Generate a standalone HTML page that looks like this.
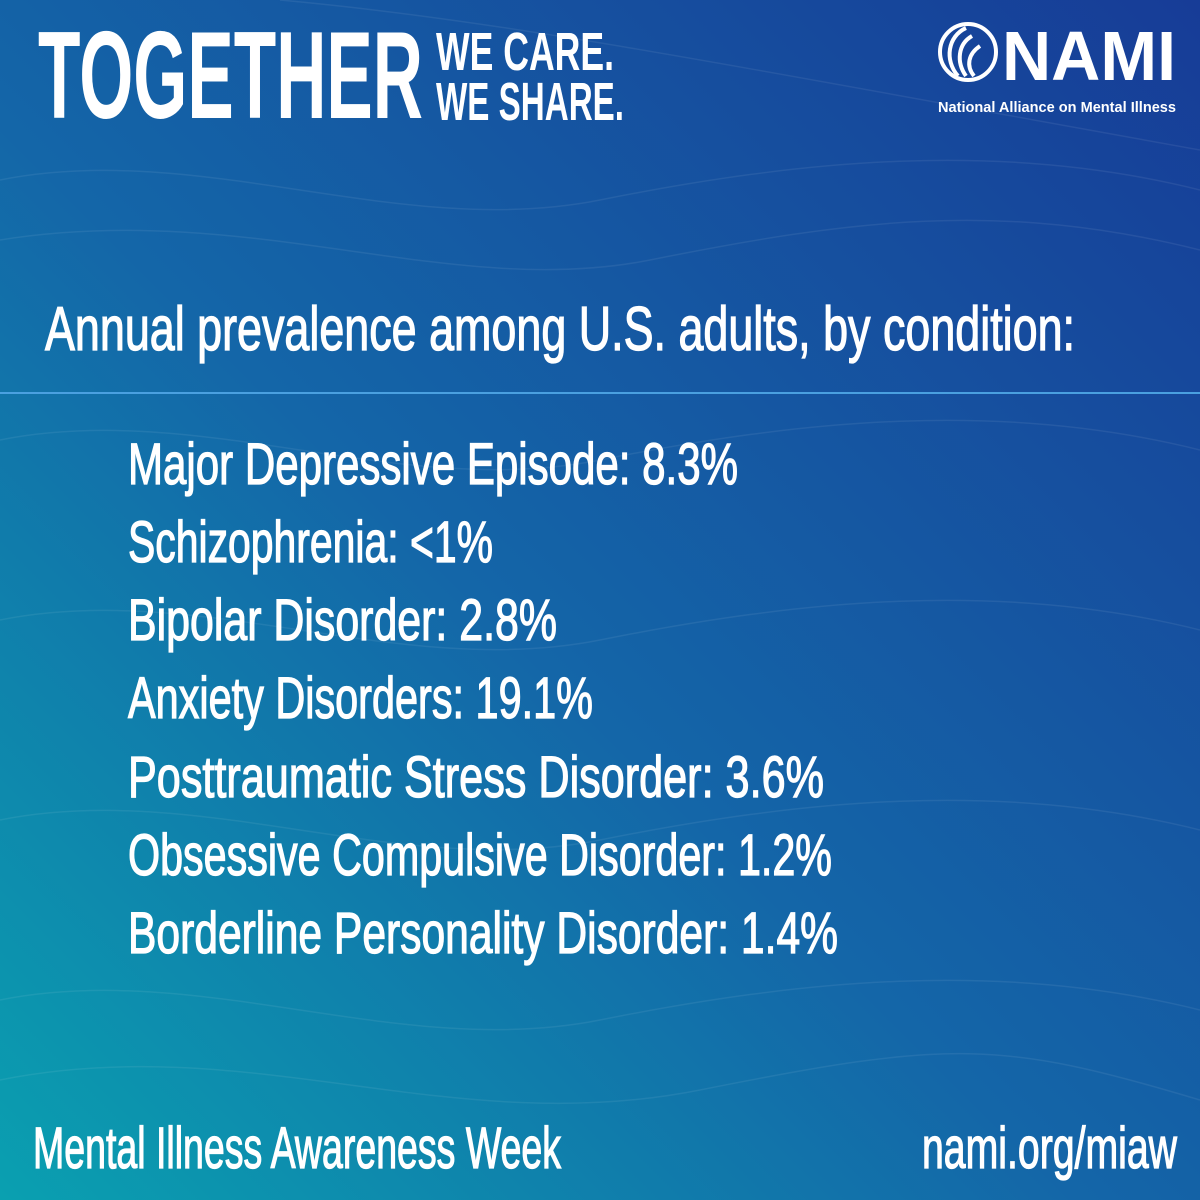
<!DOCTYPE html>
<html><head><meta charset="utf-8"><style>
html,body{margin:0;padding:0;width:1200px;height:1200px;overflow:hidden}
svg{display:block}
text{font-family:"Liberation Sans",sans-serif;fill:#fff}
.m{stroke:#fff;stroke-width:1.3}
</style></head><body>
<svg width="1200" height="1200" viewBox="0 0 1200 1200">
<defs>
<linearGradient id="bg" x1="0" y1="1" x2="1" y2="0">
<stop offset="0" stop-color="#0aa0b0"/>
<stop offset="0.45" stop-color="#1466a8"/>
<stop offset="1" stop-color="#173c97"/>
</linearGradient>
</defs>
<rect width="1200" height="1200" fill="url(#bg)"/>
<g fill="none" stroke="#ffffff" stroke-opacity="0.07" stroke-width="1.5">
<path d="M0 180 C200 140 400 240 600 200 S1000 140 1200 190"/>
<path d="M0 240 C250 200 450 300 650 260 S1000 200 1200 250"/>
<path d="M0 440 C200 400 400 500 600 460 S1000 400 1200 450"/>
<path d="M0 620 C200 580 400 680 600 640 S1000 580 1200 630"/>
<path d="M0 820 C200 780 400 880 600 840 S1000 780 1200 830"/>
<path d="M0 1000 C200 960 400 1060 600 1020 S1000 960 1200 1010"/>
<path d="M0 1080 C250 1030 450 1140 700 1090 S1000 1040 1200 1100"/>
<path d="M280 0 C500 20 700 60 1200 150"/>
</g>
<text x="38" y="118" font-size="124" font-weight="bold" textLength="385" lengthAdjust="spacingAndGlyphs">TOGETHER</text>
<text x="436" y="70" font-size="54" font-weight="bold" textLength="178" lengthAdjust="spacingAndGlyphs">WE CARE.</text>
<text x="436" y="120" font-size="54" font-weight="bold" textLength="188" lengthAdjust="spacingAndGlyphs">WE SHARE.</text>
<g>
<circle cx="968" cy="52" r="28" fill="none" stroke="#fff" stroke-width="4"/>
<path d="M958 76 C944 60 948 36 966 28 M966 76 C956 62 958 44 972 36 M974 76 C966 66 968 54 980 46" fill="none" stroke="#fff" stroke-width="4"/>
<text x="1002" y="80" font-size="70" font-weight="bold" textLength="174" lengthAdjust="spacingAndGlyphs">NAMI</text>
<text x="938" y="112" font-size="15" font-weight="bold" textLength="238" lengthAdjust="spacingAndGlyphs">National Alliance on Mental Illness</text>
</g>
<text class="m" x="45" y="350" font-size="62" textLength="1030" lengthAdjust="spacingAndGlyphs">Annual prevalence among U.S. adults, by condition:</text>
<line x1="0" y1="393" x2="1200" y2="393" stroke="#4aa0e0" stroke-width="2"/>
<g class="m">
<text x="128" y="484" font-size="58" textLength="610" lengthAdjust="spacingAndGlyphs">Major Depressive Episode: 8.3%</text>
<text x="128" y="562" font-size="58" textLength="365" lengthAdjust="spacingAndGlyphs">Schizophrenia: &lt;1%</text>
<text x="128" y="640" font-size="58" textLength="429" lengthAdjust="spacingAndGlyphs">Bipolar Disorder: 2.8%</text>
<text x="128" y="718" font-size="58" textLength="465" lengthAdjust="spacingAndGlyphs">Anxiety Disorders: 19.1%</text>
<text x="128" y="797" font-size="58" textLength="696" lengthAdjust="spacingAndGlyphs">Posttraumatic Stress Disorder: 3.6%</text>
<text x="128" y="875" font-size="58" textLength="704" lengthAdjust="spacingAndGlyphs">Obsessive Compulsive Disorder: 1.2%</text>
<text x="128" y="953" font-size="58" textLength="710" lengthAdjust="spacingAndGlyphs">Borderline Personality Disorder: 1.4%</text>
</g>
<text class="m" x="33" y="1168" font-size="58" textLength="528" lengthAdjust="spacingAndGlyphs">Mental Illness Awareness Week</text>
<text class="m" x="922" y="1168" font-size="58" textLength="255" lengthAdjust="spacingAndGlyphs">nami.org/miaw</text>
</svg>
</body></html>
